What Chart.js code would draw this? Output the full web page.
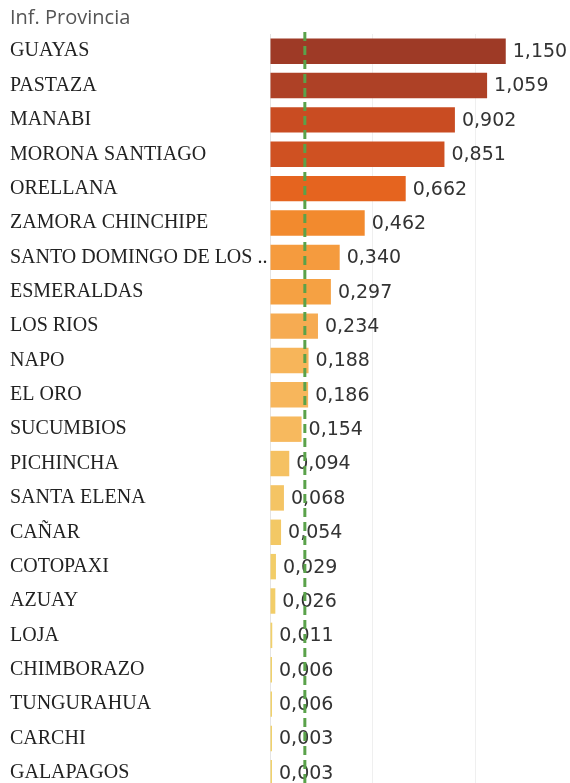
<!DOCTYPE html>
<html>
<head>
<meta charset="utf-8">
<script src="https://cdn.jsdelivr.net/npm/chart.js@4.4.1/dist/chart.umd.min.js"></script>
<style>
  html, body { margin: 0; padding: 0; background: #fff; width: 570px; height: 783px; overflow: hidden; }
  #wrap { position: relative; width: 570px; height: 802px; }
  #title { position: absolute; left: 10px; top: 3px; font: 20px "Open Sans", sans-serif; color: #555; }
  canvas { display: block; }
</style>
</head>
<body>
<div id="wrap">
  <div id="title">Inf. Provincia</div>
  <canvas id="c" width="570" height="802"></canvas>
</div>
<script>
const provincias = ["GUAYAS","PASTAZA","MANABI","MORONA SANTIAGO","ORELLANA","ZAMORA CHINCHIPE","SANTO DOMINGO DE LOS ..","ESMERALDAS","LOS RIOS","NAPO","EL ORO","SUCUMBIOS","PICHINCHA","SANTA ELENA","CAÑAR","COTOPAXI","AZUAY","LOJA","CHIMBORAZO","TUNGURAHUA","CARCHI","GALAPAGOS"];
const valores = [1.150,1.059,0.902,0.851,0.662,0.462,0.340,0.297,0.234,0.188,0.186,0.154,0.094,0.068,0.054,0.029,0.026,0.011,0.006,0.006,0.003,0.003];
const gridValores = [0, 0.5, 1.0];

const colores = ["#9E3A26","#AE4126","#C94C22","#CF5122","#E5641F","#F28A2E","#F59B3E","#F5A143","#F6AB52","#F7B55A","#F7B65C","#F7B95E","#F5C162","#F4C464","#F3C865","#F2CD68","#F2CD68","#F1D06B","#F0D16C","#F0D16C","#F0D16C","#F0D16C"];

function mediana(a) {
  const s = a.slice().sort((x, y) => x - y);
  const m = Math.floor(s.length / 2);
  return s.length % 2 ? s[m] : (s[m - 1] + s[m]) / 2;
}
const med = mediana(valores);

const fmt = v => v.toFixed(3).replace('.', ',');

const labelsPlugin = {
  id: 'valLabels',
  afterDatasetsDraw(chart) {
    const ctx = chart.ctx;
    const meta = chart.getDatasetMeta(0);
    ctx.save();
    ctx.font = '19px "DejaVu Sans", sans-serif';
    ctx.fillStyle = '#333';
    ctx.textAlign = 'left';
    ctx.textBaseline = 'middle';
    meta.data.forEach((bar, i) => {
      ctx.fillText(fmt(valores[i]), bar.x + 7, bar.y + 1);
    });
    ctx.restore();
  }
};

const medianPlugin = {
  id: 'median',
  afterDraw(chart) {
    const ctx = chart.ctx;
    const x = chart.scales.x.getPixelForValue(med);
    const a = chart.chartArea;
    ctx.save();
    ctx.strokeStyle = '#5AA24A';
    ctx.lineWidth = 3;
    ctx.setLineDash([9, 5]);
    ctx.beginPath();
    ctx.moveTo(x, a.top - 2);
    ctx.lineTo(x, a.bottom);
    ctx.stroke();
    ctx.restore();
  }
};

new Chart(document.getElementById('c'), {
  type: 'bar',
  data: {
    labels: provincias,
    datasets: [{
      data: valores,
      backgroundColor: colores,
      borderWidth: 0,
      minBarLength: 2,
      barPercentage: 0.74,
      categoryPercentage: 1.0
    }]
  },
  options: {
    indexAxis: 'y',
    responsive: false,
    animation: false,
    layout: { padding: { left: 10, right: 13, top: 34, bottom: 0 } },
    plugins: { legend: { display: false }, tooltip: { enabled: false } },
    scales: {
      x: {
        min: 0,
        max: 1.4,
        afterFit(scale) { scale.height = 0; },
        afterBuildTicks(scale) { scale.ticks = gridValores.map(v => ({ value: v })); },
        ticks: { display: false },
        border: { display: false },
        grid: {
          color: ctx => ctx.tick && ctx.tick.value === 0 ? '#e4e4e4' : '#efefef',
          lineWidth: 1,
          drawTicks: false
        }
      },
      y: {
        afterFit(scale) { scale.width = 260; },
        border: { display: false },
        grid: { display: false, drawTicks: false },
        ticks: {
          crossAlign: 'far',
          padding: 0,
          color: '#222',
          font: { family: '"Liberation Serif", "Times New Roman", serif', size: 20 }
        }
      }
    }
  },
  plugins: [labelsPlugin, medianPlugin]
});
</script>
</body>
</html>
